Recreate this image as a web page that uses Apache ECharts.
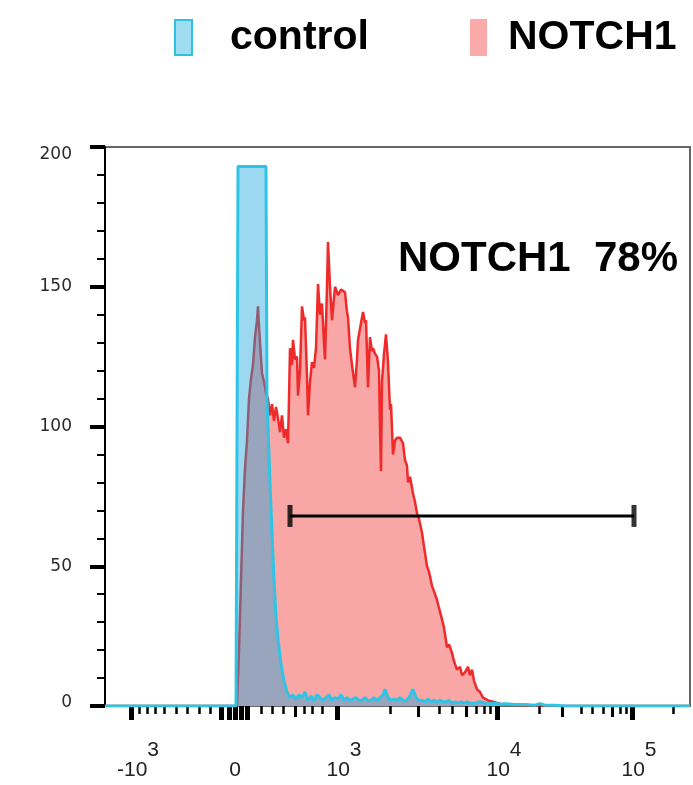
<!DOCTYPE html>
<html>
<head>
<meta charset="utf-8">
<script src="https://cdn.jsdelivr.net/npm/echarts@6/dist/echarts.min.js"></script>
<style>
html, body { margin: 0; padding: 0; background: #fff; }
#histChart { width: 693px; height: 785px; }
</style>
</head>
<body>
<div id="histChart"></div>
<script>
// x = display channel (logicle scale, 0..585), y = event count
var controlCh = [0, 131, 133, 161, 162, 163, 165, 167, 169, 171,
	173, 176, 179, 182, 185, 188, 191, 194, 197, 200,
	203, 206, 209, 212, 215, 218, 221, 224, 227, 230,
	233, 236, 239, 242, 245, 248, 251, 254, 257, 260,
	263, 266, 269, 272, 275, 278, 280, 283, 286, 289,
	292, 295, 298, 301, 304, 308, 311, 314, 317, 320,
	323, 326, 329, 332, 335, 338, 341, 344, 347, 350,
	353, 356, 359, 362, 365, 370, 375, 380, 385, 390,
	395, 400, 410, 420, 430, 435, 440, 450, 460, 585];
var controlCount = [0, 0, 193, 193, 110, 100, 80, 62, 45, 32,
	24, 15, 9, 5, 3, 4, 2.5, 4, 3, 5,
	2, 3.5, 2, 4, 3, 2, 3, 4, 2, 3,
	2.5, 4, 2, 3, 2, 2.5, 3, 2, 2, 3,
	2, 2, 3, 2, 3, 4, 6, 3, 2, 2.5,
	2, 3, 2, 2, 3, 6, 3, 2, 2, 1.5,
	2.5, 1.5, 2, 1.5, 2, 1.5, 1.5, 2, 1, 1.5,
	1, 1.5, 1, 1.5, 1, 1, 1.5, 1, 0.8, 1,
	0.6, 0.8, 0.5, 0.5, 0.3, 0.8, 0.3, 0.3, 0, 0];

var notchCh = [0, 132, 134, 136, 138, 140, 142, 144, 146, 148,
	150, 152, 153, 154, 155, 157, 159, 161, 163, 165,
	167, 169, 171, 173, 175, 177, 179, 181, 183, 184,
	185, 187, 188, 190, 192, 193, 195, 197, 199, 200,
	202, 203, 205, 207, 209, 211, 213, 215, 217, 219,
	220, 222, 223, 225, 227, 229, 230, 233, 236, 240,
	242, 243, 245, 247, 250, 252, 253, 255, 258, 260,
	261, 263, 265, 267, 268, 270, 272, 274, 275, 276,
	277, 279, 281, 283, 285, 286, 288, 290, 292, 295,
	298, 300, 302, 303, 305, 308, 310, 312, 314, 317,
	319, 322, 324, 327, 329, 332, 334, 337, 339, 342,
	344, 347, 349, 352, 355, 357, 360, 363, 365, 367,
	369, 372, 375, 378, 383, 388, 393, 398, 405, 415,
	425, 435, 445, 455, 585];
var notchCount = [0, 0, 20, 45, 70, 85, 95, 110, 117, 122,
	132, 138, 143, 136, 130, 119, 116, 112, 110, 104,
	108, 102, 107, 103, 98, 104, 96, 99, 94, 110,
	128, 122, 131, 124, 125, 111, 120, 143, 138, 139,
	118, 104, 116, 123, 121, 128, 151, 140, 144, 130,
	124, 150, 166, 150, 138, 146, 150, 147, 149, 148,
	141, 139, 128, 122, 114, 124, 131, 135, 141, 137,
	138, 114, 132, 127, 128, 126, 125, 120, 100, 84,
	116, 126, 133, 123, 106, 108, 90, 95, 96, 96,
	94, 88, 86, 80, 82, 76, 73, 69, 67, 62,
	57, 50, 48, 43, 41, 38, 35, 31, 28, 21,
	22, 19, 16, 13, 14, 11, 12, 14, 11, 13,
	9, 6, 5, 3, 2, 1.5, 1, 0.5, 0.6, 0.4,
	0.3, 0.3, 0.2, 0, 0];

// gate
var gateCh = [185, 529];
var gateCount = 68;
var gateLabel = 'NOTCH1  78%';

// axis ticks (channels)
var xLabelCh = [26, 130, 232, 392, 527];
var xLabelBase = ['-10', '0', '10', '10', '10'];
var xLabelSup = ['3', '', '3', '4', '5'];
var xMajorCh = [26, 116, 124, 130, 136, 142, 232, 392, 527];
var xMediumCh = [190, 313, 361, 457, 507];
var xMinorCh = [34, 42, 50, 59, 71, 82, 94, 105, 156, 167, 178, 199, 207, 217,
	285, 334, 347, 371, 379, 385, 434, 476, 487, 498, 515, 521, 568];

function pairs(xs, ys) {
	var out = [];
	for (var i = 0; i < xs.length; i++) {
		out.push([xs[i], ys[i]]);
	}
	return out;
}

var histChart = echarts.init(document.getElementById('histChart'));

var tickAxis = function(values, len, width) {
	return {
		type : 'value',
		position : 'bottom',
		min : 0,
		max : 585,
		axisLine : { show : false },
		splitLine : { show : false },
		axisLabel : { show : false },
		axisTick : {
			show : true,
			customValues : values,
			length : len,
			lineStyle : { color : '#000', width : width }
		}
	};
};

var majorAxis = tickAxis(xMajorCh, 14, 5);
majorAxis.axisLabel = {
	show : true,
	customValues : xLabelCh,
	margin : 34,
	color : '#222',
	fontFamily : 'Liberation Sans',
	fontSize : 21,
	formatter : function(v) {
		var i = xLabelCh.indexOf(Math.round(v));
		if (i < 0) return '';
		if (!xLabelSup[i]) return '{zero|' + xLabelBase[i] + '}';
		return '{base|' + xLabelBase[i] + '}{sup|' + xLabelSup[i] + '}';
	},
	rich : {
		base : { fontSize : 21, color : '#222', fontFamily : 'Liberation Sans', verticalAlign : 'bottom', padding : [0, 0, 0, 14] },
		sup : { fontSize : 21, color : '#222', fontFamily : 'Liberation Sans', padding : [0, 0, 20, 0] },
		zero : { fontSize : 21, color : '#222', fontFamily : 'Liberation Sans', padding : [20, 0, 0, 0] }
	}
};

var legendText = {
	fontSize : 41,
	fontWeight : 'bold',
	color : '#000',
	fontFamily : 'Liberation Sans'
};

var option = {
	animation : false,
	backgroundColor : '#fff',
	legend : [ {
		selectedMode : false,
		left : 169,
		top : 12,
		itemWidth : 17,
		itemHeight : 35,
		data : [ {
			name : 'control',
			icon : 'rect',
			itemStyle : { color : '#a0dcf0', borderColor : '#2cc3e3', borderWidth : 2 }
		} ],
		textStyle : Object.assign({ padding : [0, 0, 0, 33] }, legendText)
	}, {
		selectedMode : false,
		left : 465,
		top : 12,
		itemWidth : 17,
		itemHeight : 37,
		data : [ {
			name : 'NOTCH1',
			icon : 'rect',
			itemStyle : { color : '#fbaaaa', borderWidth : 0 }
		} ],
		textStyle : Object.assign({ padding : [0, 0, 0, 16] }, legendText)
	} ],
	grid : {
		left : 105,
		right : 3,
		top : 147,
		bottom : 79,
		show : true,
		borderColor : '#666',
		borderWidth : 2
	},
	xAxis : [ majorAxis, tickAxis(xMediumCh, 11, 3), tickAxis(xMinorCh, 8, 2.5) ],
	yAxis : [ {
		type : 'value',
		min : 0,
		max : 200,
		interval : 50,
		axisLine : { show : true, lineStyle : { color : '#000', width : 2 } },
		axisTick : { show : true, length : 15, lineStyle : { color : '#000', width : 4 } },
		minorTick : { show : true, splitNumber : 5, length : 8, lineStyle : { color : '#000', width : 2 } },
		splitLine : { show : false },
		minorSplitLine : { show : false },
		axisLabel : {
			margin : 33,
			color : '#2a2a2a',
			fontFamily : 'DejaVu Sans',
			fontSize : 17,
			formatter : function(v) {
				if (v === 200) return '{lo|200}';
				if (v === 0) return '{hi|0}';
				return '{n|' + v + '}';
			},
			rich : {
				lo : { fontSize : 17, fontFamily : 'DejaVu Sans', color : '#2a2a2a', padding : [16, 0, 0, 0] },
				hi : { fontSize : 17, fontFamily : 'DejaVu Sans', color : '#2a2a2a', padding : [0, 0, 6, 0] },
				n : { fontSize : 17, fontFamily : 'DejaVu Sans', color : '#2a2a2a' }
			}
		}
	} ],
	graphic : [ {
		type : 'text',
		left : 398,
		top : 238,
		style : {
			text : gateLabel,
			font : 'bold 42px "Liberation Sans"',
			fill : '#000'
		}
	} ],
	series : [ {
		name : 'NOTCH1',
		type : 'line',
		data : pairs(notchCh, notchCount),
		symbol : 'none',
		z : 2,
		lineStyle : { color : '#ee2a2a', width : 2.5 },
		itemStyle : { color : '#fbaaaa' },
		areaStyle : { color : '#f9a6a6', opacity : 1 }
	}, {
		name : 'control',
		type : 'line',
		data : pairs(controlCh, controlCount),
		symbol : 'none',
		z : 3,
		lineStyle : { color : '#2ec4e6', width : 3 },
		itemStyle : { color : '#2ec4e6' },
		areaStyle : { color : 'rgba(20,165,220,0.42)', opacity : 1 }
	}, {
		name : 'gate',
		type : 'line',
		data : [ [gateCh[0], gateCount], [gateCh[1], gateCount] ],
		symbol : 'none',
		z : 4,
		silent : true,
		lineStyle : { color : '#000', width : 3 }
	}, {
		name : 'gateEnds',
		type : 'scatter',
		data : [ [gateCh[0], gateCount], [gateCh[1], gateCount] ],
		symbol : 'rect',
		symbolSize : [5, 22],
		z : 4,
		silent : true,
		itemStyle : { color : '#000' }
	} ]
};
histChart.setOption(option);
</script>
</body>
</html>
